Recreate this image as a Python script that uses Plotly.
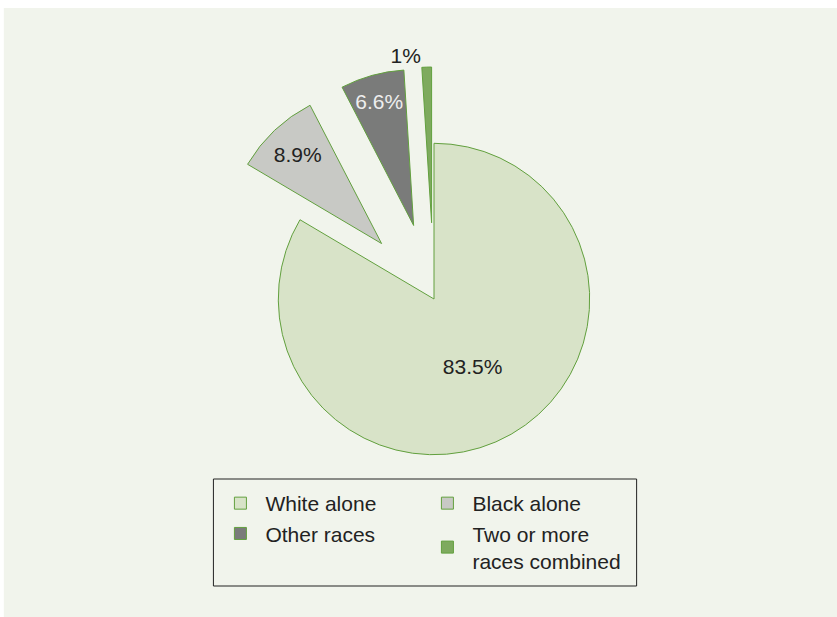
import plotly.graph_objects as go

categories = ["White alone", "Black alone", "Other races", "Two or more<br>races combined"]
values = [83.5, 8.9, 6.6, 1.0]
labels_text = ["83.5%", "8.9%", "6.6%", "1%"]
pulls = [0, 0.49, 0.49, 0.49]

fill_colors = ["#D8E3C8", "#C8C9C5", "#7A7B7A", "#7EAA5E"]
text_colors = ["#222222", "#222222", "#EEEEEE", "#222222"]
W, H = 837, 617

cx, cy, r = 434, 299, 156
half = r * (1 + max(pulls))
ML = cx - half
MR = W - (cx + half)
PW = W - ML - MR


def px_x(v):
    return (v - ML) / PW


def px_y(v):
    return 1 - v / H


fig = go.Figure(go.Pie(
    labels=categories,
    values=values,
    text=labels_text,
    texttemplate="%{text}",
    textposition=["inside", "inside", "inside", "outside"],
    insidetextorientation="horizontal",
    insidetextfont=dict(color=text_colors, size=21, family="Liberation Sans, Arial"),
    outsidetextfont=dict(color="#222222", size=21, family="Liberation Sans, Arial"),
    pull=pulls,
    sort=False,
    direction="clockwise",
    rotation=0,
    marker=dict(colors=fill_colors, line=dict(color="#62A03E", width=1)),
    hoverinfo="label+percent",
    domain=dict(x=[0, 1], y=[1 - (cy + half) / H, 1 - (cy - half) / H]),
))

fig.update_layout(
    width=W, height=H,
    margin=dict(l=ML, r=MR, t=0, b=0, autoexpand=False),
    paper_bgcolor="white",
    plot_bgcolor="rgba(0,0,0,0)",
    font=dict(family="Liberation Sans, Arial", size=21, color="#222222"),
    uniformtext=dict(mode="show", minsize=21),
    shapes=[
        dict(type="rect", xref="paper", yref="paper",
             x0=px_x(3), x1=px_x(W + 5), y0=px_y(H + 5), y1=px_y(8),
             fillcolor="#F1F4EC", line=dict(width=0), layer="below"),
        dict(type="rect", xref="paper", yref="paper",
             x0=px_x(213), x1=px_x(637), y0=px_y(586), y1=px_y(479),
             fillcolor="rgba(0,0,0,0)", line=dict(color="#222222", width=1), layer="below"),
    ],
    legend=dict(
        orientation="h",
        x=px_x(215), xanchor="left",
        y=px_y(483), yanchor="top",
        entrywidth=152,
        itemwidth=40,
        borderwidth=0,
        bgcolor="rgba(0,0,0,0)",
        font=dict(size=21, color="#222222"),
        traceorder="normal",
    ),
)

fig.write_html("out.html")
